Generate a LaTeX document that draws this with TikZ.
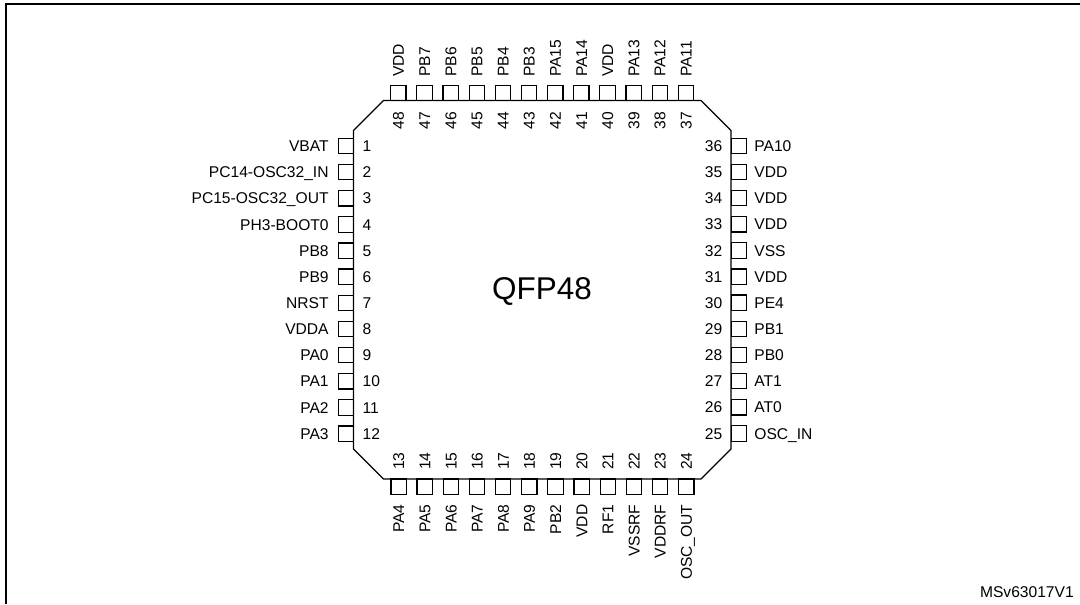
\documentclass[tikz,border=0pt]{standalone}
\usepackage{fontspec}
\setmainfont{Liberation Sans}
\usepackage{tikz}
\usetikzlibrary{positioning}

\tikzset{
  pin/.style={draw,rectangle,line width=.9pt,inner sep=0pt,minimum size=11.5pt},
  pintext/.style={inner sep=0pt,text height=8.4pt,text depth=0pt,font=\fontsize{11.7}{13}\selectfont},
  vertical/.style={pintext,rotate=90}
}

\begin{document}
\begin{tikzpicture}[x=.75pt,y=-.75pt]
  \useasboundingbox (0,0) rectangle (1080,604);
  % frame, open on the right and at the bottom
  \coordinate (frameA) at (6,604);
  \coordinate (frameB) at (6,4);
  \coordinate (frameC) at (1080,4);
  \draw[line width=1.9pt] (frameA) -- (frameB) -- (frameC);
  % package outline
  \draw[line width=.9pt] (383.5,100.5) -- (701,100.5) -- (731,130.5) -- (731,449)
     -- (701,479) -- (383.5,479) -- (353.5,449) -- (353.5,130.5) -- cycle;
  \node (name) [text height=16.9pt,text depth=0pt,font=\fontsize{23.6}{28}\selectfont] at (542,288.5) {QFP48};
  \node (code) [pintext,anchor=east] at (1074,591.5) {MSv63017V1};
  %
  % left side
  \foreach \num/\sig [count=\i from 0] in {1/VBAT,2/PC14-OSC32\_IN,3/PC15-OSC32\_OUT,4/PH3-BOOT0,5/PB8,6/PB9,7/NRST,8/VDDA,9/PA0,10/PA1,11/PA2,12/PA3} {
    \node (p\num) [pin] at (345.8,146+26.15*\i) {};
    \node (n\num) [pintext,right=6.2pt of p\num] {\num};
    \node (s\num) [pintext,left=6.5pt of p\num] {\sig};
  }
  % bottom side
  \foreach \num/\sig [count=\i from 0] in {13/PA4,14/PA5,15/PA6,16/PA7,17/PA8,18/PA9,19/PB2,20/VDD,21/RF1,22/VSSRF,23/VDDRF,24/OSC\_OUT} {
    \node (p\num) [pin] at (398.6+26.15*\i,486.7) {};
    \node (n\num) [vertical,above=6.2pt of p\num,anchor=west] {\num};
    \node (s\num) [vertical,below=7pt of p\num,anchor=east] {\sig};
  }
  % right side
  \foreach \num/\sig [count=\i from 0] in {25/OSC\_IN,26/AT0,27/AT1,28/PB0,29/PB1,30/PE4,31/VDD,32/VSS,33/VDD,34/VDD,35/VDD,36/PA10} {
    \node (p\num) [pin] at (738.8,433.5-26.15*\i) {};
    \node (n\num) [pintext,left=6pt of p\num] {\num};
    \node (s\num) [pintext,right=5.3pt of p\num] {\sig};
  }
  % top side
  \foreach \num/\sig [count=\i from 0] in {37/PA11,38/PA12,39/PA13,40/VDD,41/PA14,42/PA15,43/PB3,44/PB4,45/PB5,46/PB6,47/PB7,48/VDD} {
    \node (p\num) [pin] at (686-26.15*\i,93.2) {};
    \node (n\num) [vertical,below=7.6pt of p\num,anchor=east] {\num};
    \node (s\num) [vertical,above=6pt of p\num,anchor=west] {\sig};
  }
\end{tikzpicture}
\end{document}
